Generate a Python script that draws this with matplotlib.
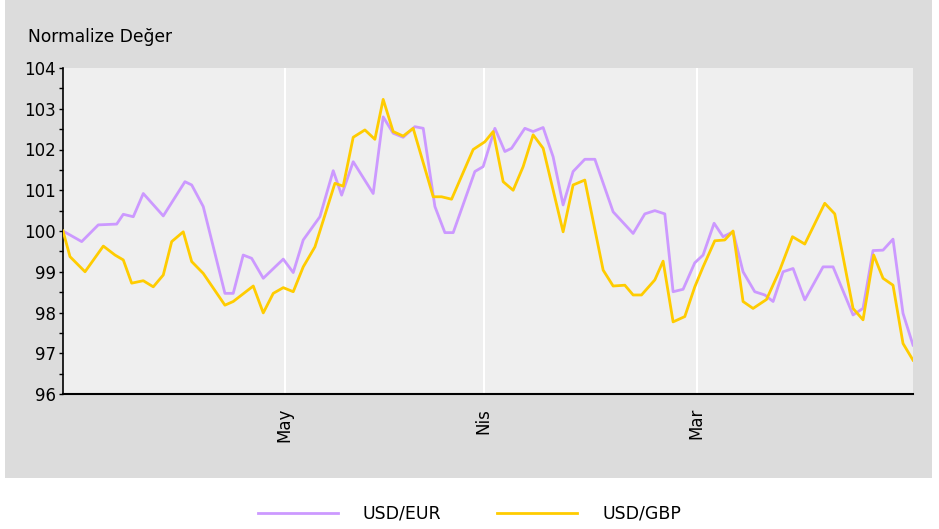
import numpy as np
import matplotlib.pyplot as plt
from matplotlib.patches import Rectangle

# day offsets and normalised values
eur_x = [0, 2.75, 5.19, 7.9, 8.87, 10.34, 11.81, 14.75, 17.94, 18.93, 20.63,
         23.82, 25.04, 26.51, 27.75, 29.46, 32.4, 33.87, 35.34, 37.79, 39.75,
         40.99, 42.69, 45.63, 47.1, 48.57, 50.04, 51.76, 52.99, 54.71, 56.18,
         57.4, 60.59, 61.81, 63.53, 65.0, 65.99, 67.94, 69.16, 70.63, 72.1,
         73.57, 75.04, 76.76, 78.24, 80.93, 83.87, 85.59, 87.06, 88.53, 89.75,
         91.22, 92.94, 94.16, 95.78, 97.1, 98.57, 100.04, 101.76, 103.24,
         104.46, 105.93, 107.4, 109.12, 111.81, 113.28, 116.22, 117.69,
         119.16, 120.63, 122.1, 123.57, 125.04]
eur_y = [100.0, 99.74, 100.15, 100.17, 100.41, 100.35, 100.92, 100.37, 101.21,
         101.13, 100.6, 98.47, 98.47, 99.41, 99.33, 98.84, 99.31, 98.98, 99.78,
         100.35, 101.48, 100.88, 101.7, 100.92, 102.8, 102.4, 102.3, 102.56,
         102.52, 100.6, 99.96, 99.96, 101.46, 101.58, 102.52, 101.95, 102.03,
         102.52, 102.44, 102.54, 101.82, 100.64, 101.46, 101.76, 101.76,
         100.47, 99.94, 100.42, 100.5, 100.42, 98.51, 98.57, 99.22, 99.41,
         100.19, 99.86, 99.98, 99.0, 98.51, 98.43, 98.27, 99.0, 99.08, 98.31,
         99.12, 99.12, 97.94, 98.1, 99.52, 99.53, 99.8, 97.98, 97.2]

gbp_x = [0, 1.03, 3.24, 5.93, 7.65, 8.87, 10.1, 11.81, 13.28, 14.75, 15.99,
         17.69, 18.93, 20.63, 23.82, 25.04, 27.99, 29.46, 30.93, 32.4, 33.87,
         35.34, 37.06, 40.0, 41.22, 42.69, 44.41, 45.88, 47.1, 48.57, 50.04,
         51.51, 54.46, 55.69, 57.16, 60.34, 62.06, 63.28, 64.75, 66.22, 67.69,
         69.16, 70.63, 73.57, 75.04, 76.76, 79.46, 80.93, 82.65, 83.87, 85.1,
         87.06, 88.28, 89.75, 91.47, 92.94, 94.16, 95.88, 97.35, 98.57,
         100.04, 101.51, 103.49, 105.44, 107.31, 109.12, 112.06, 113.53,
         116.22, 117.69, 119.26, 120.63, 122.1, 123.57, 125.04]
gbp_y = [100.0, 99.37, 99.0, 99.63, 99.41, 99.29, 98.72, 98.78, 98.63, 98.92,
         99.74, 99.98, 99.25, 98.96, 98.18, 98.27, 98.65, 97.99, 98.47, 98.61,
         98.51, 99.12, 99.61, 101.17, 101.1, 102.3, 102.48, 102.25, 103.23,
         102.44, 102.33, 102.52, 100.84, 100.84, 100.78, 102.0, 102.19,
         102.44, 101.21, 101.0, 101.58, 102.36, 102.03, 99.98, 101.13, 101.25,
         99.04, 98.65, 98.67, 98.43, 98.43, 98.8, 99.26, 97.77, 97.9, 98.63,
         99.12, 99.76, 99.78, 100.0, 98.27, 98.1, 98.32, 99.04, 99.86, 99.68,
         100.68, 100.42, 98.1, 97.82, 99.41, 98.84, 98.67, 97.24, 96.83]

month_pos = [32.6, 61.9, 93.2]
month_lbl = ["May", "Nis", "Mar"]

fig = plt.figure(figsize=(9.39, 5.29), dpi=100)
fig.patch.set_facecolor("white")
fig.patches.append(Rectangle((5/939, 1 - 478/529), 927/939, 478/529,
                             transform=fig.transFigure, facecolor="#dcdcdc",
                             edgecolor="none", zorder=-10))

ax = fig.add_axes([63/939, 1 - 394/529, 850/939, 326/529])
ax.set_zorder(1)
ax.set_facecolor("#efefef")
ax.plot(eur_x, eur_y, color="#cc99ff", lw=2.0, label="USD/EUR", zorder=3)
ax.plot(gbp_x, gbp_y, color="#ffcc00", lw=2.0, label="USD/GBP", zorder=4)

ax.set_xlim(0, 125.04)
ax.set_ylim(96, 104)
ax.set_yticks(np.arange(96, 105, 1))
ax.set_yticks(np.arange(96.5, 104, 1), minor=True)
ax.set_xticks(month_pos)
ax.set_xticklabels(month_lbl, rotation=90, fontsize=12)
ax.tick_params(axis="x", length=0, pad=10)
ax.tick_params(axis="y", which="both", direction="out", length=3, width=1,
               labelsize=12, pad=2)
ax.grid(axis="x", color="white", lw=1.5)
ax.set_axisbelow(True)
for s in ["top", "right"]:
    ax.spines[s].set_visible(False)
ax.spines["left"].set_linewidth(1.2)
ax.spines["bottom"].set_linewidth(1.5)

fig.text(28/939, 1 - 37/529, "Normalize Değer", fontsize=12.3, va="center",
         ha="left")

fig.legend(loc="center", bbox_to_anchor=(0.5, 1 - 514/529), ncol=2,
           frameon=False, fontsize=12.5, handlelength=4.6, handletextpad=1.45,
           columnspacing=3.2)

fig.savefig("out.png", dpi=100, facecolor=fig.get_facecolor())
